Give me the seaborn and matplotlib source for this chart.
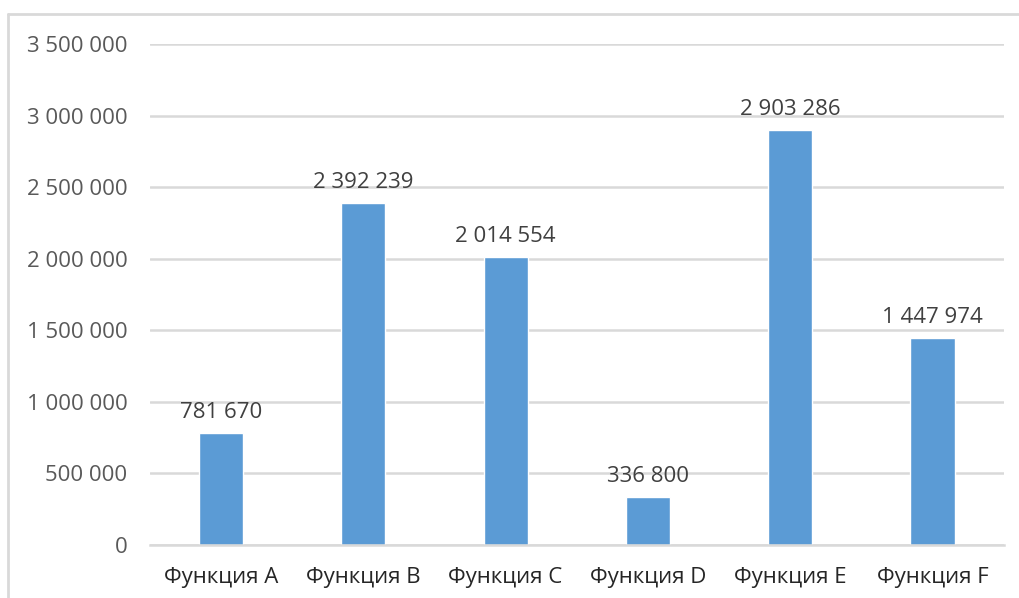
import matplotlib
matplotlib.use("Agg")
import matplotlib.pyplot as plt
import matplotlib.ticker as mticker
from matplotlib.lines import Line2D
import pandas as pd
import seaborn as sns

sns.set_style("white")
plt.rcParams['font.family'] = ['Open Sans', 'DejaVu Sans']

# Data
functions = ["Функция A", "Функция B", "Функция C", "Функция D", "Функция E", "Функция F"]
amounts = [781670, 2392239, 2014554, 336800, 2903286, 1447974]
y_ticks = [0, 500000, 1000000, 1500000, 2000000, 2500000, 3000000, 3500000]

df = pd.DataFrame({"Function": functions, "Amount": amounts})


def spaced(v, pos=None):
    return f"{int(v):,}".replace(",", " ")


fig = plt.figure(figsize=(10.19, 5.98), dpi=100)
ax = fig.add_axes([0.147, 0.089, 0.838, 0.837])

sns.barplot(
    data=df,
    x="Function",
    y="Amount",
    color="#5B9BD5",
    saturation=1,
    width=0.31,
    ax=ax
)

ax.set_ylim(0, 3500000)
ax.set_yticks(y_ticks)
ax.yaxis.set_major_formatter(mticker.FuncFormatter(spaced))
ax.grid(axis="y", color="#d9d9d9", linewidth=1.8)
ax.set_axisbelow(True)
ax.set_xlabel("")
ax.set_ylabel("")

for side in ["top", "right", "left"]:
    ax.spines[side].set_visible(False)
ax.spines["bottom"].set_color("#d9d9d9")
ax.spines["bottom"].set_linewidth(1.8)

ax.tick_params(axis="y", length=0, pad=16, labelsize=16, labelcolor="#595959")
ax.tick_params(axis="x", length=0, pad=16, labelsize=16, labelcolor="#262626")

ax.bar_label(
    ax.containers[0],
    labels=[spaced(v) for v in amounts],
    padding=7,
    fontsize=16,
    color="#404040"
)

# chart frame
fig.add_artist(Line2D([8/1019, 1], [1 - 14/598, 1 - 14/598], color="#d9d9d9", linewidth=2, transform=fig.transFigure))
fig.add_artist(Line2D([8/1019, 8/1019], [0, 1 - 14/598], color="#d9d9d9", linewidth=2, transform=fig.transFigure))

plt.savefig("out.png", dpi=100)
plt.close()
